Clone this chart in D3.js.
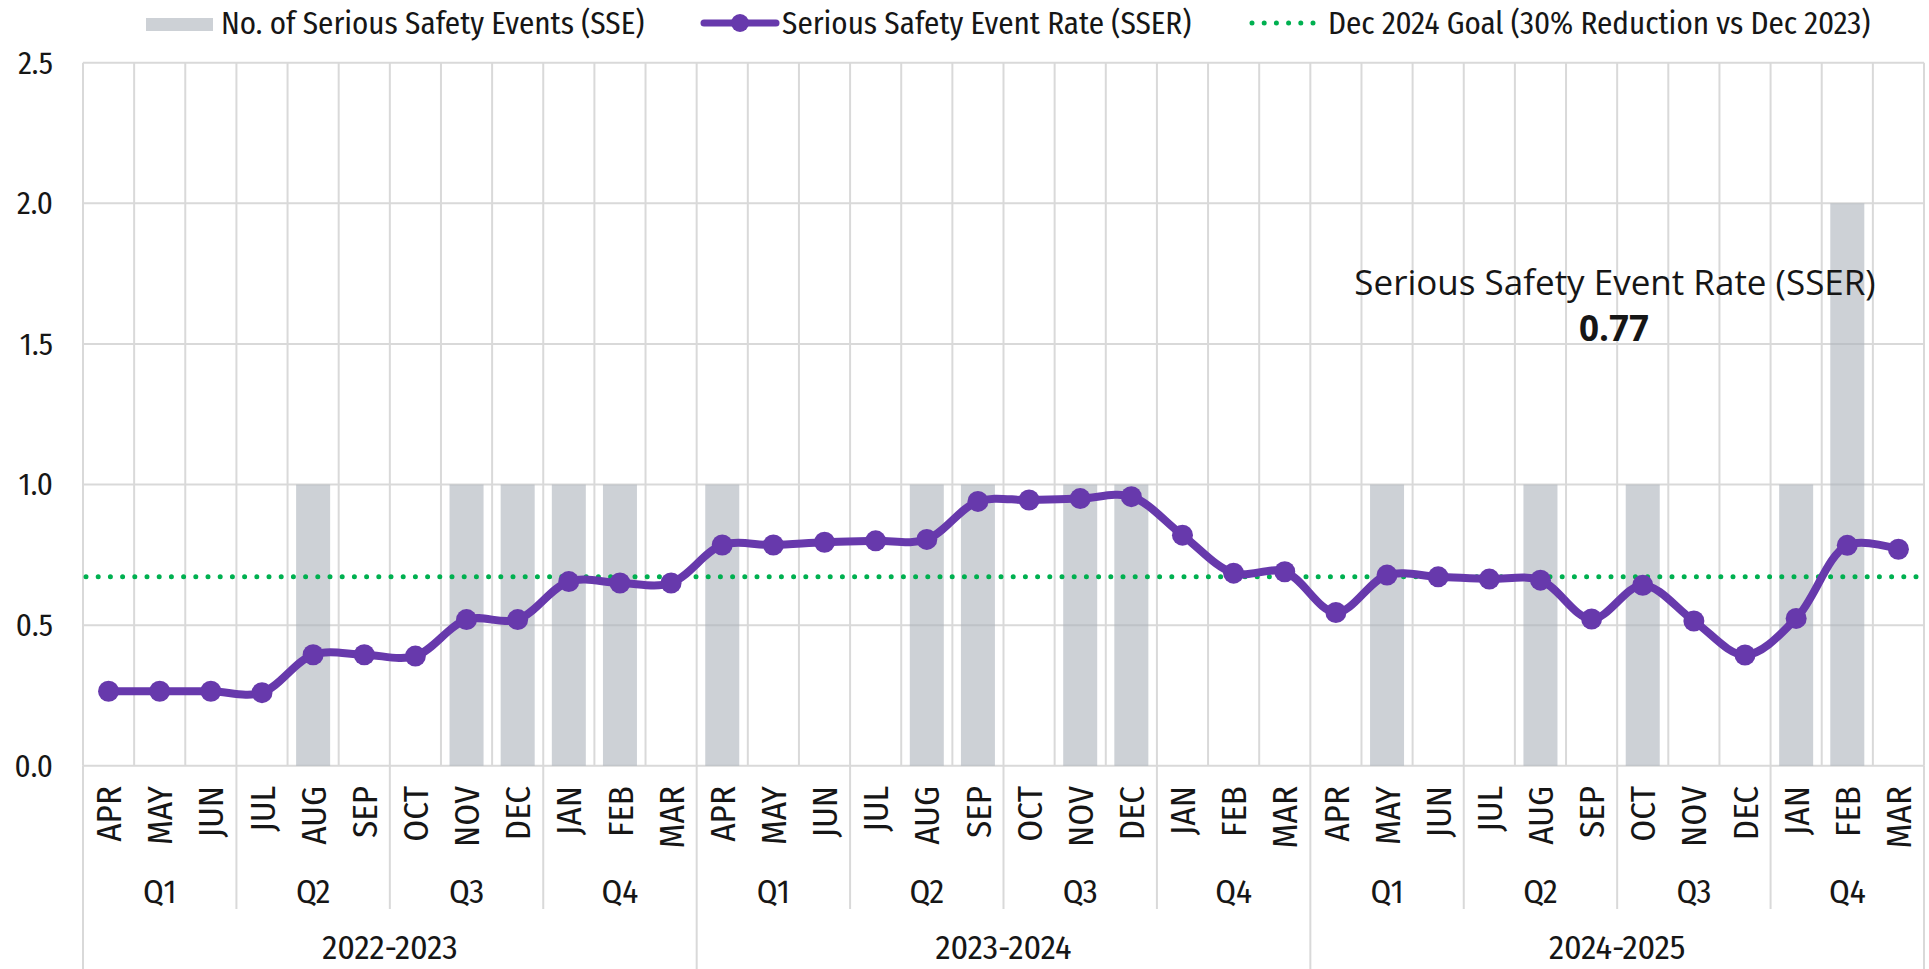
<!DOCTYPE html>
<html>
<head>
<meta charset="utf-8">
<script src="https://cdn.jsdelivr.net/npm/d3@7"></script>
<style>
  body { margin: 0; background: #fff; }
  svg { display: block; }
  text { font-family: "Fira Sans Condensed", "Liberation Sans Narrow", "Roboto Condensed", "DejaVu Sans Condensed", sans-serif; fill: #161616; }
  .note { font-family: "Open Sans", "Noto Sans", sans-serif; }
</style>
</head>
<body>
<div id="chart"></div>
<script>
const fiscalYears = ["2022-2023", "2023-2024", "2024-2025"]
const quarters = ["Q1", "Q2", "Q3", "Q4"]
const months = ["APR", "MAY", "JUN", "JUL", "AUG", "SEP", "OCT", "NOV", "DEC", "JAN", "FEB", "MAR"]

// No. of Serious Safety Events per month
const sseCounts = [
  0, 0, 0, 0, 1, 0, 0, 1, 1, 1, 1, 0,
  1, 0, 0, 0, 1, 1, 0, 1, 1, 0, 0, 0,
  0, 1, 0, 0, 1, 0, 1, 0, 0, 1, 2, 0
]
// Serious Safety Event Rate per month
const sserRates = [
  0.265, 0.265, 0.265, 0.26, 0.395, 0.395, 0.39, 0.52, 0.52, 0.655, 0.65, 0.65,
  0.785, 0.785, 0.795, 0.80, 0.805, 0.94, 0.945, 0.95, 0.957, 0.82, 0.685, 0.69,
  0.545, 0.678, 0.672, 0.664, 0.66, 0.522, 0.642, 0.515, 0.394, 0.524, 0.784, 0.77
]
const goalRate = 0.672
const yTicks = [0, 0.5, 1.0, 1.5, 2.0, 2.5]

const legendLabels = ["No. of Serious Safety Events (SSE)", "Serious Safety Event Rate (SSER)", "Dec 2024 Goal (30% Reduction vs Dec 2023)"]
const noteTitle = "Serious Safety Event Rate (SSER)"
const noteValue = "0.77"

let width = 1929, height = 969
let plot = { left: 83, right: 1924, top: 62.7, bottom: 765.8 }

let purple = "#6739ac", green = "#00b050", grid = "#d9d9d9"

let svg = d3.select("#chart").append("svg")
  .attr("width", width)
  .attr("height", height)

// one slot per month across the three fiscal years
let slots = []
fiscalYears.forEach((fy, f) => months.forEach((m, i) => slots.push({ fy, month: m, q: Math.floor(i / 3), i: f * 12 + i })))

let x = d3.scaleBand()
  .domain(slots.map(d => d.i))
  .range([plot.left, plot.right])
let y = d3.scaleLinear()
  .domain([0, 2.5])
  .range([plot.bottom, plot.top])

let bw = x.bandwidth()
let cx = i => x(i) + bw / 2

// gridlines
svg.append("g")
  .selectAll("line")
  .data(d3.range(slots.length + 1))
  .join("line")
  .attr("x1", i => plot.left + i * bw)
  .attr("x2", i => plot.left + i * bw)
  .attr("y1", plot.top)
  .attr("y2", plot.bottom)
  .attr("stroke", grid)
  .attr("stroke-width", 2)

svg.append("g")
  .selectAll("line")
  .data(yTicks)
  .join("line")
  .attr("x1", plot.left)
  .attr("x2", plot.right)
  .attr("y1", d => y(d))
  .attr("y2", d => y(d))
  .attr("stroke", grid)
  .attr("stroke-width", 2)

// bars
let barW = bw * 0.665
svg.append("g")
  .selectAll("rect")
  .data(slots.filter(d => sseCounts[d.i] > 0))
  .join("rect")
  .attr("x", d => cx(d.i) - barW / 2)
  .attr("width", barW)
  .attr("y", d => y(sseCounts[d.i]))
  .attr("height", d => y(0) - y(sseCounts[d.i]))
  .attr("fill", "#acb2bb")
  .attr("fill-opacity", 0.6)

// y axis labels
svg.append("g")
  .selectAll("text")
  .data(yTicks)
  .join("text")
  .attr("x", 53)
  .attr("y", d => y(d))
  .attr("dy", "0.35em")
  .attr("text-anchor", "end")
  .style("font-size", "31px")
  .text(d => d3.format(".1f")(d))

// category axis: months, quarters, fiscal years
let axis = svg.append("g")
axis.selectAll(".sep")
  .data(d3.range(0, slots.length + 1, 3))
  .join("line")
  .attr("class", "sep")
  .attr("x1", i => plot.left + i * bw)
  .attr("x2", i => plot.left + i * bw)
  .attr("y1", plot.bottom)
  .attr("y2", i => i % 12 == 0 ? height : 909)
  .attr("stroke", grid)
  .attr("stroke-width", 2)

axis.selectAll(".month")
  .data(slots)
  .join("text")
  .attr("class", "month")
  .attr("transform", d => "translate(" + cx(d.i) + ",786) rotate(-90)")
  .attr("dy", "0.36em")
  .attr("text-anchor", "end")
  .style("font-size", "35px")
  .text(d => d.month)

let qSlots = slots.filter(d => d.i % 3 == 1)
axis.selectAll(".quarter")
  .data(qSlots)
  .join("text")
  .attr("class", "quarter")
  .attr("x", d => cx(d.i))
  .attr("y", 891)
  .attr("dy", "0.35em")
  .attr("text-anchor", "middle")
  .style("font-size", "33px")
  .text(d => quarters[d.q])

axis.selectAll(".year")
  .data(fiscalYears)
  .join("text")
  .attr("class", "year")
  .attr("x", (d, f) => (x(f * 12) + x(f * 12 + 11) + bw) / 2)
  .attr("y", 947)
  .attr("dy", "0.35em")
  .attr("text-anchor", "middle")
  .style("font-size", "34px")
  .text(d => d)

// goal line
svg.append("line")
  .attr("x1", plot.left + 3)
  .attr("x2", plot.right)
  .attr("y1", y(goalRate))
  .attr("y2", y(goalRate))
  .attr("stroke", green)
  .attr("stroke-width", 5)
  .attr("stroke-linecap", "round")
  .attr("stroke-dasharray", "0 12.2")

// SSER line
let rateLine = d3.line()
  .x(d => cx(d.i))
  .y(d => y(sserRates[d.i]))
  .curve(d3.curveCatmullRom.alpha(0.5))
svg.append("path")
  .datum(slots)
  .attr("d", rateLine)
  .attr("fill", "none")
  .attr("stroke", purple)
  .attr("stroke-width", 8)
  .attr("stroke-linejoin", "round")

svg.append("g")
  .selectAll("circle")
  .data(slots)
  .join("circle")
  .attr("cx", d => cx(d.i))
  .attr("cy", d => y(sserRates[d.i]))
  .attr("r", 10.5)
  .attr("fill", purple)

// annotation
svg.append("text")
  .attr("class", "note")
  .attr("x", 1615)
  .attr("y", 295)
  .attr("text-anchor", "middle")
  .style("font-size", "35px")
  .text(noteTitle)
svg.append("text")
  .attr("class", "note")
  .attr("x", 1614)
  .attr("y", 341)
  .attr("text-anchor", "middle")
  .style("font-size", "35px")
  .style("font-weight", "bold")
  .text(noteValue)

// legend
let legend = svg.append("g").style("font-size", "31px")
let ly = 23
legend.append("rect")
  .attr("x", 146).attr("y", 18)
  .attr("width", 67).attr("height", 13)
  .attr("fill", "#acb2bb").attr("fill-opacity", 0.6)
legend.append("text").attr("x", 221).attr("y", ly).attr("dy", "0.35em").text(legendLabels[0])

legend.append("line")
  .attr("x1", 704).attr("x2", 776).attr("y1", ly).attr("y2", ly)
  .attr("stroke", purple).attr("stroke-width", 7).attr("stroke-linecap", "round")
legend.append("circle").attr("cx", 740).attr("cy", ly).attr("r", 9).attr("fill", purple)
legend.append("text").attr("x", 782).attr("y", ly).attr("dy", "0.35em").text(legendLabels[1])

legend.append("line")
  .attr("x1", 1252).attr("x2", 1316).attr("y1", ly).attr("y2", ly)
  .attr("stroke", green).attr("stroke-width", 5)
  .attr("stroke-linecap", "round").attr("stroke-dasharray", "0 12.2")
legend.append("text").attr("x", 1328).attr("y", ly).attr("dy", "0.35em").text(legendLabels[2])
</script>
</body>
</html>
